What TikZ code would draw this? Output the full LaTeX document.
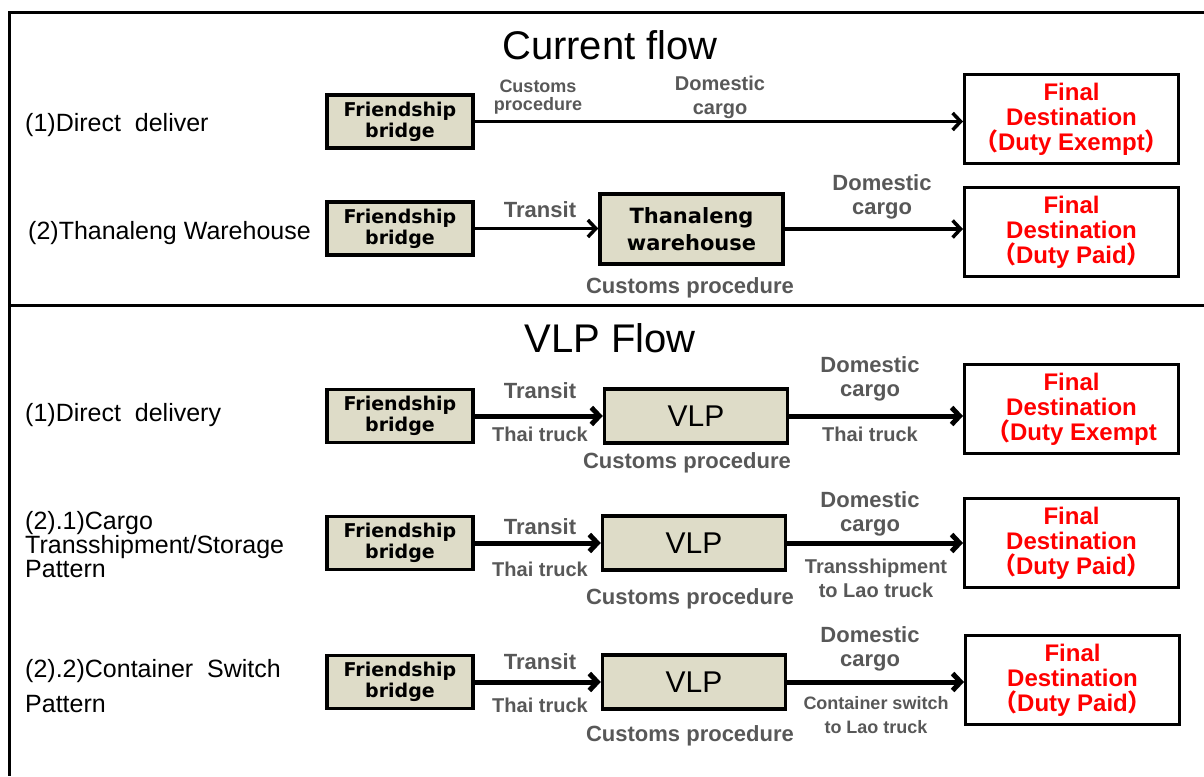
\documentclass[tikz,border=0pt]{standalone}
\usepackage{fontspec}
\setmainfont{Liberation Sans}
\newfontfamily\boxfont{DejaVu Sans}
\newfontfamily\cjk{Noto Sans CJK SC}
\usetikzlibrary{arrows.meta}
\definecolor{boxfill}{RGB}{222,220,200}
\definecolor{lblgray}{RGB}{88,88,88}
\definecolor{destred}{RGB}{255,0,0}
\tikzset{
  stage/.style={draw, line width=3.5pt, fill=boxfill, minimum width=146pt, minimum height=53pt,
    inner sep=0pt, align=center, font=\boxfont\bfseries\fontsize{19}{21}\selectfont},
  hub/.style={stage, minimum width=183pt, minimum height=54pt, font=\fontsize{30}{30}\selectfont},
  dest/.style={draw, line width=3pt, fill=white, minimum width=214pt, minimum height=89pt,
    inner sep=0pt, align=center, text=destred, font=\bfseries\fontsize{24}{25}\selectfont},
  lbl/.style={text=lblgray, align=center, inner sep=0pt, font=\bfseries\fontsize{22}{24}\selectfont},
  smalllbl/.style={lbl, font=\bfseries\fontsize{18}{18}\selectfont},
  midlbl/.style={lbl, font=\bfseries\fontsize{20}{24}\selectfont},
  rowlabel/.style={anchor=west, align=left, inner sep=0pt, font=\fontsize{25}{24}\selectfont},
  heading/.style={inner sep=0pt, font=\fontsize{40}{40}\selectfont},
  flowthin/.style={line width=3.5pt, -{Straight Barb[length=8pt,width=17pt]}},
  flow/.style={line width=5pt, -{Straight Barb[length=8pt,width=17pt]}},
  frame/.style={line width=3pt}
}
\newcommand{\fwl}{{\cjk （}}
\newcommand{\fwr}{{\cjk ）}}
\begin{document}
\begin{tikzpicture}[x=1pt,y=-1pt]
\useasboundingbox (0,0) rectangle (1204,776);

% outer frame and section divider
\coordinate (tl) at (9,13);
\coordinate (tr) at (1204,13);
\coordinate (bl) at (9,776);
\coordinate (ml) at (9,305);
\coordinate (mr) at (1204,305);
\draw[frame] (tr) -- (tl) -- (bl);
\draw[frame] (ml) -- (mr);

% ---------------- Current flow ----------------
\node[heading] (t1) at (610,45) {Current flow};

% (1) direct delivery
\node[rowlabel] (r1) at (25,125) {(1)Direct\ \ deliver};
\node[stage] (fb1) at (400,121.5) {Friendship\\bridge};
\node[dest] (fd1) at (1071.5,119) {Final\\Destination\\\fwl Duty Exempt\fwr};
\draw[flowthin] (fb1.east) -- (fb1.east -| fd1.west);
\node[smalllbl] (c1) at (538,97) {Customs\\procedure};
\node[midlbl] (d1) at (720,97) {Domestic\\cargo};

% (2) Thanaleng warehouse
\node[rowlabel] (r2) at (28,233) {(2)Thanaleng Warehouse};
\node[stage] (fb2) at (400,228.5) {Friendship\\bridge};
\node[stage, minimum width=183pt, minimum height=70pt, font=\boxfont\bfseries\fontsize{21}{27}\selectfont]
  (tw) at (691.5,229) {Thanaleng\\warehouse};
\node[dest] (fd2) at (1071.5,232) {Final\\Destination\\\fwl Duty Paid\fwr};
\draw[flowthin] (fb2.east) -- (fb2.east -| tw.west);
\draw[flowthin] (tw.east) -- (tw.east -| fd2.west);
\node[lbl] (tr2) at (540,210) {Transit};
\node[lbl] (d2) at (882,197) {Domestic\\cargo};
\node[lbl] (c2) at (690,288) {Customs procedure};

% ---------------- VLP flow ----------------
\node[heading] (t2) at (610,338) {VLP Flow};

% (1) direct delivery
\node[rowlabel] (r3) at (25,415) {(1)Direct\ \ delivery};
\node[stage] (fb3) at (400,416) {Friendship\\bridge};
\node[hub] (v1) at (696,416) {VLP};
\node[dest] (fd3) at (1071.5,409) {Final\\Destination\\\fwl Duty Exempt};
\draw[flow] (fb3.east) -- (fb3.east -| v1.west);
\draw[flow] (v1.east) -- (v1.east -| fd3.west);
\node[lbl] (tr3) at (540,391) {Transit};
\node[midlbl] (th3) at (540,434) {Thai truck};
\node[lbl] (c3) at (687,463) {Customs procedure};
\node[lbl] (d3) at (870,379) {Domestic\\cargo};
\node[midlbl] (tt3) at (870,434) {Thai truck};

% (2).1 transshipment / storage
\node[rowlabel] (r4) at (25,545) {(2).1)Cargo\\Transshipment/Storage\\Pattern};
\node[stage] (fb4) at (400,543) {Friendship\\bridge};
\node[hub] (v2) at (694,543) {VLP};
\node[dest] (fd4) at (1071.5,543) {Final\\Destination\\\fwl Duty Paid\fwr};
\draw[flow] (fb4.east) -- (fb4.east -| v2.west);
\draw[flow] (v2.east) -- (v2.east -| fd4.west);
\node[lbl] (tr4) at (540,527) {Transit};
\node[midlbl] (th4) at (540,569) {Thai truck};
\node[lbl] (c4) at (690,599) {Customs procedure};
\node[lbl] (d4) at (870,514) {Domestic\\cargo};
\node[midlbl] (ts4) at (876,578) {Transshipment\\to Lao truck};

% (2).2 container switch
\node[rowlabel, font=\fontsize{25}{35}\selectfont] (r5) at (25,686) {(2).2)Container\ \ Switch\\Pattern};
\node[stage] (fb5) at (400,682) {Friendship\\bridge};
\node[hub] (v3) at (694,682) {VLP};
\node[dest] (fd5) at (1072.5,680) {Final\\Destination\\\fwl Duty Paid\fwr};
\draw[flow] (fb5.east) -- (fb5.east -| v3.west);
\draw[flow] (v3.east) -- (v3.east -| fd5.west);
\node[lbl] (tr5) at (540,662) {Transit};
\node[midlbl] (th5) at (540,705) {Thai truck};
\node[lbl] (c5) at (690,736) {Customs procedure};
\node[lbl] (d5) at (870,649) {Domestic\\cargo};
\node[smalllbl, font=\bfseries\fontsize{18}{24}\selectfont] (cs5) at (876,715) {Container switch\\to Lao truck};
\end{tikzpicture}
\end{document}
